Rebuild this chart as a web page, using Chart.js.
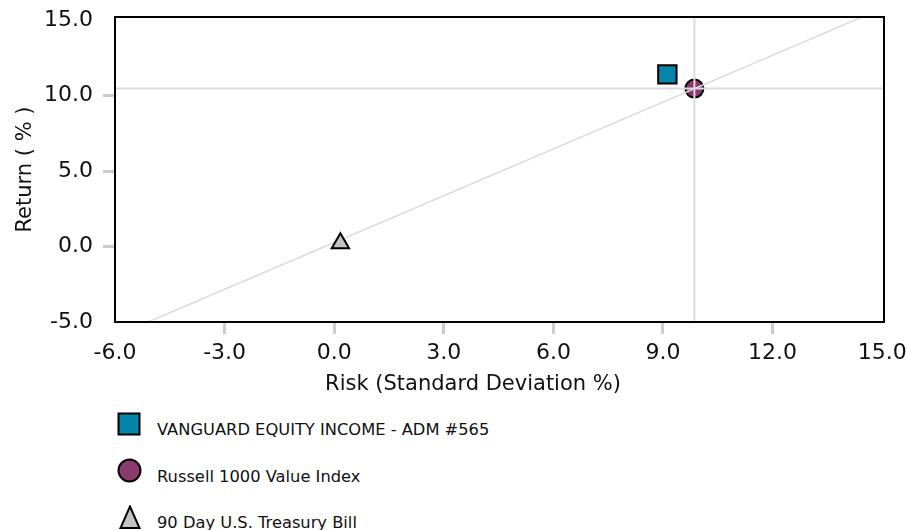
<!DOCTYPE html>
<html><head><meta charset="utf-8">
<script src="https://cdn.jsdelivr.net/npm/chart.js@4"></script>
<style>
html,body{margin:0;padding:0;background:#fff;}
#wrap{position:relative;width:907px;height:530px;overflow:hidden;font-family:"DejaVu Sans",Verdana,sans-serif;background:#fff;}
#c{position:absolute;left:0;top:0;}
.ic{position:absolute;left:117px;}
.lt{position:absolute;left:157px;font-size:16.3px;line-height:16px;color:#111;white-space:nowrap;}
</style></head>
<body><div id="wrap"><canvas id="c" width="907" height="400"></canvas><div id="legend"></div></div>
<script>
// ---- data ----
const seriesNames = ["VANGUARD EQUITY INCOME - ADM #565", "Russell 1000 Value Index", "90 Day U.S. Treasury Bill"];
const riskValues = [9.12, 9.86, 0.17];     // Standard deviation %
const returnValues = [11.40, 10.46, 0.22]; // Return %
const marketLineRisk = [-5.09, 14.45];
const marketLineReturn = [-5.0, 15.2];
const xTicks = [-6, -3, 0, 3, 6, 9, 12, 15];
const yTicks = [-5, 0, 5, 10, 15];
const xLabel = "Risk (Standard Deviation %)";
const yLabel = "Return ( % )";

// ---- styles ----
const FONT = '"DejaVu Sans", Verdana, sans-serif';
const fills = ['#0386a9', '#8a3b6e', '#c3c3c3'];
const lightLine = 'rgb(222,218,222)';
const tickGrey = '#c8cdd2';
const X_MIN = -6, X_MAX = 15.05, Y_MIN = -5, Y_MAX = 15.2;

const pt = i => [{x: riskValues[i], y: returnValues[i]}];

const frame = {
  id: 'frame',
  afterDatasetsDraw(chart) {
    const {ctx, chartArea: a} = chart;
    ctx.save();
    ctx.strokeStyle = '#000';
    ctx.lineWidth = 2;
    ctx.strokeRect(a.left, a.top, a.right - a.left, a.bottom - a.top);
    ctx.restore();
  },
  afterDraw(chart) {
    const {ctx} = chart;
    ctx.save();
    ctx.font = '21px ' + FONT;
    ctx.fillStyle = '#111';
    ctx.textAlign = 'center';
    ctx.textBaseline = 'alphabetic';
    ctx.fillText(xLabel, 473, 390);
    ctx.restore();
  }
};

const tickCol = (arr) => (c) => (c.index === 0 || c.index === arr.length - 1) ? 'rgba(0,0,0,0)' : tickGrey;

new Chart(document.getElementById('c'), {
  type: 'scatter',
  data: {
    datasets: [
      {label: seriesNames[0], data: pt(0), pointStyle: 'rect', pointRadius: 13, backgroundColor: fills[0], borderColor: '#000', borderWidth: 2},
      {label: seriesNames[2], data: pt(2), pointStyle: 'triangle', pointRadius: 10, backgroundColor: fills[2], borderColor: '#000', borderWidth: 2},
      {label: 'line', data: marketLineRisk.map((x, i) => ({x, y: marketLineReturn[i]})), showLine: true, pointRadius: 0, borderColor: lightLine, borderWidth: 1.5},
      {label: 'v', data: [{x: riskValues[1], y: Y_MIN}, {x: riskValues[1], y: Y_MAX}], showLine: true, pointRadius: 0, borderColor: lightLine, borderWidth: 2},
      {label: 'h', data: [{x: X_MIN, y: returnValues[1]}, {x: X_MAX, y: returnValues[1]}], showLine: true, pointRadius: 0, borderColor: lightLine, borderWidth: 2},
      {label: seriesNames[1], data: pt(1), pointStyle: 'circle', pointRadius: 9, backgroundColor: fills[1], borderColor: '#000', borderWidth: 2}
    ]
  },
  options: {
    responsive: false,
    animation: false,
    devicePixelRatio: 1,
    layout: {autoPadding: false, padding: {top: 17, right: 23, left: 0, bottom: 0}},
    plugins: {legend: {display: false}, tooltip: {enabled: false}},
    scales: {
      x: {
        type: 'linear', min: X_MIN, max: X_MAX,
        afterBuildTicks: s => { s.ticks = xTicks.map(v => ({value: v})); },
        afterFit: s => { s.height = 78; s.paddingLeft = 0; s.paddingRight = 0; },
        border: {display: false},
        grid: {drawOnChartArea: false, drawTicks: true, tickLength: 12, tickWidth: 3, tickColor: tickCol(xTicks)},
        ticks: {color: '#111', padding: 6, font: {family: FONT, size: 22}, callback: v => Number(v).toFixed(1)}
      },
      y: {
        type: 'linear', min: Y_MIN, max: Y_MAX,
        afterBuildTicks: s => { s.ticks = yTicks.map(v => ({value: v})); },
        afterFit: s => { s.width = 115; s.paddingTop = 0; s.paddingBottom = 0; },
        border: {display: false},
        grid: {drawOnChartArea: false, drawTicks: true, tickLength: 12, tickWidth: 3, tickColor: tickCol(yTicks)},
        ticks: {color: '#111', padding: 10, font: {family: FONT, size: 22}, callback: v => Number(v).toFixed(1)},
        title: {display: true, text: yLabel, color: '#111', padding: {top: 13, bottom: 0}, font: {family: FONT, size: 21}}
      }
    }
  },
  plugins: [frame]
});

// ---- HTML legend ----
const icons = [
  '<svg width="25" height="25"><rect x="1.5" y="1.5" width="21" height="21" fill="' + fills[0] + '" stroke="#000" stroke-width="2"/></svg>',
  '<svg width="25" height="25"><circle cx="12.5" cy="12.5" r="11" fill="' + fills[1] + '" stroke="#000" stroke-width="2"/></svg>',
  '<svg width="25" height="25"><polygon points="13,1.5 3.5,23 22.5,23" fill="' + fills[2] + '" stroke="#000" stroke-width="2" stroke-linejoin="miter"/></svg>'
];
const iconTops = [412, 458, 505];
const baselines = [435, 482, 528];
const order = [0, 1, 2];
let html = '';
order.forEach((s, k) => {
  html += '<div class="ic" style="top:' + iconTops[k] + 'px">' + icons[s] + '</div>';
  html += '<div class="lt" style="top:' + (baselines[k] - 13.5) + 'px">' + seriesNames[s] + '</div>';
});
document.getElementById('legend').innerHTML = html;
</script>
</body></html>
